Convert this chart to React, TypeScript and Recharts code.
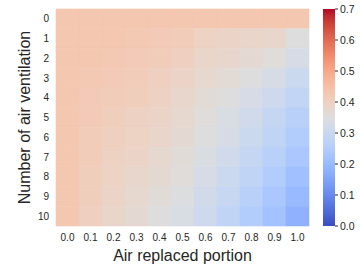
import React from "react";
import { BarChart, Bar, XAxis, YAxis, Cell, Label } from "recharts";

const columns = ["0.0", "0.1", "0.2", "0.3", "0.4", "0.5", "0.6", "0.7", "0.8", "0.9", "1.0"];
const rowLabels = ["0", "1", "2", "3", "4", "5", "6", "7", "8", "9", "10"];

const row0 = [0.43, 0.43, 0.43, 0.43, 0.43, 0.43, 0.43, 0.43, 0.43, 0.43, 0.43];
const row1 = [0.43, 0.43, 0.43, 0.425, 0.42, 0.415, 0.395, 0.39, 0.385, 0.38, 0.35];
const row2 = [0.43, 0.43, 0.425, 0.42, 0.415, 0.405, 0.385, 0.38, 0.37, 0.355, 0.33];
const row3 = [0.43, 0.425, 0.42, 0.415, 0.405, 0.39, 0.375, 0.365, 0.35, 0.33, 0.305];
const row4 = [0.43, 0.42, 0.415, 0.41, 0.4, 0.38, 0.365, 0.35, 0.33, 0.31, 0.285];
const row5 = [0.43, 0.42, 0.41, 0.4, 0.39, 0.375, 0.355, 0.335, 0.315, 0.29, 0.265];
const row6 = [0.43, 0.415, 0.405, 0.395, 0.385, 0.37, 0.35, 0.33, 0.305, 0.28, 0.25];
const row7 = [0.43, 0.415, 0.4, 0.39, 0.375, 0.36, 0.34, 0.315, 0.29, 0.265, 0.235];
const row8 = [0.43, 0.41, 0.395, 0.38, 0.37, 0.355, 0.33, 0.305, 0.28, 0.25, 0.215];
const row9 = [0.43, 0.41, 0.39, 0.375, 0.36, 0.345, 0.32, 0.295, 0.265, 0.235, 0.2];
const row10 = [0.43, 0.405, 0.385, 0.37, 0.35, 0.335, 0.31, 0.28, 0.25, 0.22, 0.18];

const rows = [row0, row1, row2, row3, row4, row5, row6, row7, row8, row9, row10];

const colorbarTicks = [0, 0.1, 0.2, 0.3, 0.4, 0.5, 0.6, 0.7];
const vmin = 0;
const vmax = 0.7;

// Moreland coolwarm anchors
const CW: number[][] = [
  [59, 76, 192], [68, 90, 204], [77, 104, 215], [87, 117, 225], [98, 130, 234],
  [108, 142, 241], [119, 154, 247], [130, 165, 251], [141, 176, 254], [152, 185, 255],
  [163, 194, 255], [174, 201, 253], [184, 208, 249], [194, 213, 244], [204, 217, 238],
  [213, 219, 230], [221, 221, 221], [229, 216, 209], [236, 211, 197], [241, 204, 185],
  [245, 196, 173], [247, 187, 160], [247, 177, 148], [247, 166, 135], [244, 154, 123],
  [241, 141, 111], [236, 127, 99], [229, 112, 88], [222, 96, 77], [213, 80, 66],
  [203, 62, 56], [192, 40, 47], [180, 4, 38],
];

function coolwarm(t: number): string {
  const c = Math.max(0, Math.min(1, t)) * (CW.length - 1);
  const i = Math.min(CW.length - 2, Math.floor(c));
  const f = c - i;
  const a = CW[i];
  const b = CW[i + 1];
  const rgb = a.map((v, k) => Math.round(v + (b[k] - v) * f));
  return `rgb(${rgb[0]},${rgb[1]},${rgb[2]})`;
}
const colorOf = (v: number) => coolwarm((v - vmin) / (vmax - vmin));

const heatData = columns.map((c) => {
  const o: Record<string, any> = { col: c };
  rowLabels.forEach((_, i) => {
    o[`r${i}`] = 1;
  });
  return o;
});

const rowTicks = rowLabels.map((_, i) => i + 0.5);

const FONT = "'Liberation Sans', Arial, sans-serif";
const TXT = "#262626";

export default function App() {
  return (
    <div style={{ position: "absolute", left: 0, top: 0, width: 362, height: 272, background: "#fff", fontFamily: FONT }}>
      <div style={{ position: "absolute", left: 0, top: 0 }}>
        <BarChart
          width={362}
          height={272}
          data={heatData}
          margin={{ top: 9, right: 53, bottom: 0, left: 0 }}
          barCategoryGap={0}
          barGap={0}
        >
          <XAxis
            dataKey="col"
            height={46}
            tickLine={false}
            axisLine={false}
            interval={0}
            tick={{ fontSize: 10, fill: TXT, fontFamily: FONT }}
          >
            <Label value="Air replaced portion" position="insideBottom" offset={11} style={{ fontSize: 16, fill: TXT, fontFamily: FONT }} />
          </XAxis>
          <YAxis
            type="number"
            domain={[0, 11]}
            reversed
            ticks={rowTicks}
            interval={0}
            tickFormatter={(v: number) => rowLabels[Math.floor(v)]}
            width={56}
            tickLine={false}
            axisLine={false}
            tickMargin={1}
            tick={{ fontSize: 10, fill: TXT, fontFamily: FONT }}
          >
            <Label value="Number of air ventilation" angle={-90} position="center" dx={-4} style={{ fontSize: 16, fill: TXT, fontFamily: FONT, textAnchor: "middle" }} />
          </YAxis>
          {rows.map((row, i) => (
            <Bar key={i} dataKey={`r${i}`} stackId="a" isAnimationActive={false}>
              {row.map((v, j) => (
                <Cell key={j} fill={colorOf(v)} stroke={colorOf(v)} strokeWidth={0.6} />
              ))}
            </Bar>
          ))}
        </BarChart>
      </div>
      <div style={{ position: "absolute", left: 0, top: 0 }}>
        <BarChart
          width={362}
          height={272}
          data={[{ name: "cb", v: vmax }]}
          margin={{ top: 9, right: 0, bottom: 46, left: 323 }}
          barCategoryGap={0}
        >
          <defs>
            <linearGradient id="cbgrad" x1="0" y1="1" x2="0" y2="0">
              {CW.map((c, k) => (
                <stop key={k} offset={`${(k / (CW.length - 1)) * 100}%`} stopColor={`rgb(${c[0]},${c[1]},${c[2]})`} />
              ))}
            </linearGradient>
          </defs>
          <XAxis dataKey="name" hide />
          <YAxis
            orientation="right"
            type="number"
            domain={[vmin, vmax]}
            ticks={colorbarTicks}
            interval={0}
            width={27}
            axisLine={false}
            tickLine={{ stroke: TXT, strokeWidth: 1 }}
            tickSize={3}
            tickMargin={2}
            tickFormatter={(v: number) => v.toFixed(1)}
            tick={{ fontSize: 10.5, fill: TXT, fontFamily: FONT }}
          />
          <Bar dataKey="v" fill="url(#cbgrad)" isAnimationActive={false} />
        </BarChart>
      </div>
    </div>
  );
}
